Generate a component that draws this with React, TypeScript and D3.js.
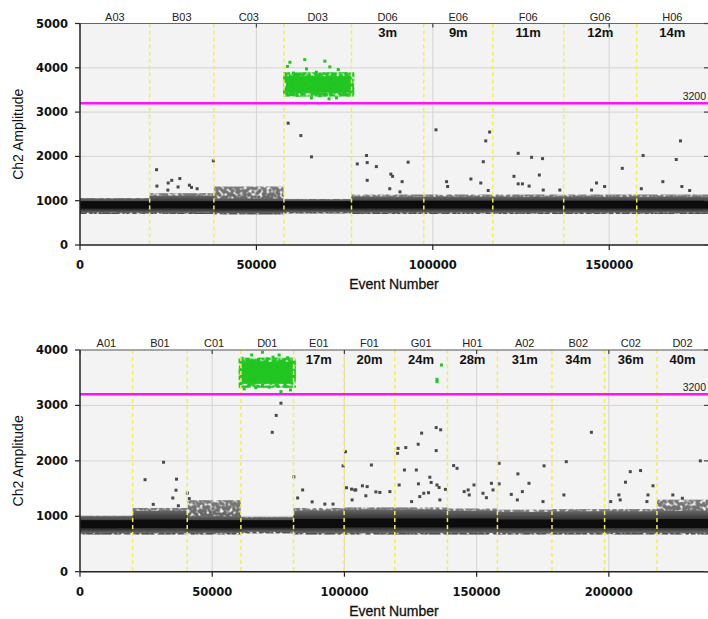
import React from 'react';
import * as d3 from 'd3';

// ---- top plot data (ch2 amplitude vs event number) ----
const topWells = ['A03', 'B03', 'C03', 'D03', 'D06', 'E06', 'F06', 'G06', 'H06'];
const topTimes = ['', '', '', '', '3m', '9m', '11m', '12m', '14m'];
const topWellEnd = [19750, 37950, 57800, 76950, 97450, 117000, 137100, 157800, 178000];
// droplet band per well: bottom of fuzz, dense core, top of dark band, top of light cap
const topLo = [730, 730, 720, 740, 730, 730, 730, 730, 730];
const topCoreLo = [830, 830, 830, 840, 830, 830, 830, 830, 830];
const topCoreHi = [990, 990, 990, 990, 1000, 1000, 1000, 1000, 1000];
const topHi = [1050, 1110, 1050, 1030, 1090, 1090, 1090, 1090, 1090];
const topCap = [1060, 1170, 1320, 1040, 1140, 1140, 1140, 1140, 1140];
const topOutliers: [number, number][] = [
  [21700, 1700], [21800, 1330], [25000, 1400], [26000, 1460], [28300, 1500], [27800, 1310],
  [24900, 1240], [31000, 1350], [31600, 1300], [33200, 1270], [37800, 1900], [59000, 2750],
  [62600, 2470], [65600, 1990], [78600, 1830], [81200, 2020], [81400, 1860], [81400, 1460],
  [84000, 1770], [88100, 1600], [88600, 1550], [91300, 1430], [93000, 1870], [87800, 1270],
  [90700, 1200], [100900, 2600], [103900, 1430], [104200, 1320], [110800, 1490], [113600, 1400],
  [114300, 1880], [115000, 2350], [116100, 2550], [115700, 1230], [124200, 2070], [123000, 1550],
  [124200, 1380], [125400, 1380], [128000, 1980], [127300, 1330], [131100, 1950], [130200, 1580],
  [131300, 1240], [136000, 1240], [146400, 1400], [145000, 1240], [148700, 1320], [153700, 1730],
  [159600, 2020], [159100, 1270], [165200, 1430], [169000, 1930], [170200, 2350], [170600, 1320],
  [172800, 1230],
];
const topGreenBox = [58400, 76900, 3440, 3810];
const topGreen: [number, number][] = [
  [59500, 4125], [63700, 4185], [69400, 4150], [58800, 4030], [70800, 4020], [73200, 3960],
  [64200, 3975], [65600, 3320], [70600, 3300], [72700, 3320], [60500, 3880], [67000, 3900],
  [75500, 3860], [61500, 3380], [68000, 3370], [76000, 3390], [58200, 3700], [77200, 3600],
  [62000, 3850], [65000, 3840], [71800, 3850], [74000, 3830], [59800, 3400], [63500, 3410],
  [66800, 3400], [69800, 3390], [73800, 3410], [58100, 3520], [77100, 3480], [58300, 3850],
];

// ---- bottom plot data ----
const botWells = ['A01', 'B01', 'C01', 'D01', 'E01', 'F01', 'G01', 'H01', 'A02', 'B02', 'C02', 'D02'];
const botTimes = ['', '', '', '', '17m', '20m', '24m', '28m', '31m', '34m', '36m', '40m'];
const botWellEnd = [19920, 40550, 60850, 80760, 99890, 119050, 138960, 157860, 178500, 198400, 218200, 237500];
const botLo = [700, 700, 700, 720, 700, 700, 700, 700, 700, 700, 700, 700];
const botCoreLo = [790, 790, 790, 800, 790, 800, 800, 800, 790, 790, 790, 790];
const botCoreHi = [930, 940, 930, 930, 950, 960, 960, 960, 940, 940, 940, 950];
const botHi = [1000, 1100, 1000, 980, 1100, 1120, 1120, 1100, 1080, 1090, 1090, 1100];
const botCap = [1010, 1150, 1290, 990, 1150, 1160, 1160, 1140, 1120, 1130, 1130, 1300];
const botOutliers: [number, number][] = [
  [24600, 1660], [31600, 1975], [36500, 1670], [36300, 1470], [35100, 1330], [37200, 1190],
  [40600, 1420], [41300, 1320], [27700, 1215], [72700, 2515], [74200, 2820], [76000, 3040],
  [80900, 1710], [82300, 1330], [84200, 1475], [87800, 1260], [92600, 1220], [95700, 1220],
  [99500, 1910], [100400, 2165], [100800, 1515], [102700, 1490], [102900, 1295], [104300, 1475],
  [110200, 1925], [106800, 1550], [103900, 1475], [108600, 1535], [108100, 1370], [111900, 1440],
  [113400, 1430], [117200, 1445], [120300, 2225], [120100, 2135], [123200, 2240], [127900, 2300],
  [129200, 2500], [134700, 2600], [136400, 2560], [134700, 2185], [122700, 1835], [127200, 1835],
  [120700, 1565], [128000, 1585], [132300, 1705], [132800, 1610], [135000, 1565], [135800, 1520],
  [130000, 1415], [131800, 1425], [128500, 1355], [125400, 1265], [136100, 1295], [138200, 1485],
  [141300, 1915], [142600, 1865], [146800, 1475], [145300, 1445], [147200, 1385], [149000, 1565],
  [152400, 1415], [153700, 1335], [155600, 1595], [156200, 1475], [158500, 1955], [158500, 1585],
  [163100, 1395], [165400, 1295], [165600, 1765], [167300, 1445], [169800, 1595], [175500, 1910],
  [175100, 1265], [183000, 1385], [183900, 1985], [193400, 2515], [203800, 1385], [204300, 1295],
  [200700, 1265], [206300, 1615], [208100, 1805], [212000, 1825], [216700, 1550], [214800, 1385],
  [214400, 1265], [224200, 1385], [227800, 1325], [234600, 2000],
];
const botGreenBox = [61100, 80500, 3390, 3790];
const botGreen: [number, number][] = [
  [69000, 3960], [64900, 3910], [75300, 3910], [62100, 3300], [76000, 3250], [79600, 3280],
  [66500, 3320], [71500, 3330], [61200, 3850], [73000, 3870], [78500, 3860], [80800, 3600],
  [63200, 3820], [67500, 3830], [70800, 3840], [77000, 3820], [64000, 3350], [69000, 3360],
  [74500, 3350], [78000, 3340], [60900, 3500], [80700, 3450],
  [136700, 3730], [135000, 3470], [135000, 3430],
];

type PanelProps = {
  top: number; bottom: number; xMax: number; yMax: number;
  xTicks: number[]; wells: string[]; times: string[]; wellEnd: number[];
  lo: number[]; coreLo: number[]; coreHi: number[]; hi: number[]; cap: number[];
  outliers: [number, number][]; greenBox: number[]; green: [number, number][];
  id: string;
};

const LEFT = 80;
const RIGHT = 708;
const AX_FONT = '"DejaVu Sans", Verdana, sans-serif';
const LAB_FONT = '"Liberation Sans", Arial, sans-serif';

function Panel(p: PanelProps) {
  const x = d3.scaleLinear().domain([0, p.xMax]).range([LEFT, RIGHT]);
  const y = d3.scaleLinear().domain([0, p.yMax]).range([p.bottom, p.top]);
  const yTicks = d3.range(0, p.yMax + 1, 1000);
  const starts = [0, ...p.wellEnd.slice(0, -1)];
  const g = p.greenBox;
  return (
    <g>
      <defs>
        <linearGradient id={p.id + 'band'} x1="0" y1="0" x2="0" y2="1">
          <stop offset="0%" stopColor="#666" />
          <stop offset="35%" stopColor="#383838" />
          <stop offset="70%" stopColor="#1e1e1e" />
          <stop offset="100%" stopColor="#6a6a6a" />
        </linearGradient>
        <linearGradient id={p.id + 'cap'} x1="0" y1="0" x2="0" y2="1">
          <stop offset="0%" stopColor="#7c7c7c" />
          <stop offset="100%" stopColor="#4c4c4c" />
        </linearGradient>
        {/* grainy edge so the droplet clouds do not look like solid blocks */}
        <filter id={p.id + 'grain'} x="-2%" y="-20%" width="104%" height="140%">
          <feTurbulence type="fractalNoise" baseFrequency="0.3" numOctaves="1" seed="7" result="n" />
          <feColorMatrix in="n" type="matrix"
            values="0 0 0 0 0  0 0 0 0 0  0 0 0 0 0  4 0 0 0 -1.1" result="a" />
          <feComposite in="SourceGraphic" in2="a" operator="in" />
        </filter>
      </defs>
      <rect x={LEFT} y={p.top} width={RIGHT - LEFT} height={p.bottom - p.top} fill="#f3f3f3" />
      {yTicks.slice(1).map(t => (
        <line key={'gy' + t} x1={LEFT} x2={RIGHT} y1={y(t)} y2={y(t)} stroke="#d4d4d4" strokeWidth={1} />
      ))}
      {p.xTicks.slice(1).map(t => (
        <line key={'gx' + t} x1={x(t)} x2={x(t)} y1={p.top} y2={p.bottom} stroke="#d4d4d4" strokeWidth={1} />
      ))}
      {/* droplet bands */}
      <g filter={`url(#${p.id}grain)`}>
        {p.wells.map((w, i) => (
          <rect key={'cap' + w} x={x(starts[i])} width={x(p.wellEnd[i]) - x(starts[i])}
            y={y(p.cap[i])} height={y(p.lo[i] - 30) - y(p.cap[i])} fill={`url(#${p.id}cap)`} />
        ))}
      </g>
      {p.wells.map((w, i) => (
        <g key={'band' + w}>
          <rect x={x(starts[i])} width={x(p.wellEnd[i]) - x(starts[i])}
            y={y(p.hi[i])} height={y(p.lo[i]) - y(p.hi[i])} fill={`url(#${p.id}band)`} />
          <rect x={x(starts[i])} width={x(p.wellEnd[i]) - x(starts[i])}
            y={y(p.coreHi[i])} height={y(p.coreLo[i]) - y(p.coreHi[i])} fill="#0c0c0c" />
        </g>
      ))}
      {p.outliers.map((d, i) => (
        <rect key={'o' + i} x={x(d[0]) - 1.5} y={y(d[1]) - 1.5} width={3} height={3} fill="#4a4a4a" />
      ))}
      <rect x={x(g[0])} width={x(g[1]) - x(g[0])} y={y(g[3])} height={y(g[2]) - y(g[3])}
        fill="#1fc41f" />
      <g filter={`url(#${p.id}grain)`}>
        <rect x={x(g[0]) - 3} width={x(g[1]) - x(g[0]) + 6} y={y(g[3]) - 4}
          height={y(g[2]) - y(g[3]) + 8} fill="#22c622" />
      </g>
      {p.green.map((d, i) => (
        <rect key={'gr' + i} x={x(d[0]) - 1.5} y={y(d[1]) - 1.5} width={3} height={3} fill="#22c622" />
      ))}
      {/* well separators */}
      {p.wellEnd.slice(0, -1).map((e, i) => (
        <line key={'sep' + i} x1={x(e)} x2={x(e)} y1={p.top} y2={p.bottom}
          stroke="#f2f050" strokeWidth={1.5} strokeDasharray="4,3" />
      ))}
      {/* threshold */}
      <line x1={LEFT} x2={RIGHT} y1={y(3200)} y2={y(3200)} stroke="#ff10ff" strokeWidth={2.5} />
      <text x={RIGHT - 2} y={y(3200) - 3} textAnchor="end" fontFamily={LAB_FONT} fontSize={10.5} fill="#222">3200</text>
      {/* well labels */}
      {p.wells.map((w, i) => {
        const cx = x((starts[i] + p.wellEnd[i]) / 2);
        return (
          <g key={'lab' + w}>
            <text x={cx} y={p.top - 3} textAnchor="middle" fontFamily={LAB_FONT} fontSize={11} fill="#222">{w}</text>
            {p.times[i] && (
              <text x={cx} y={p.top + 13.5} textAnchor="middle" fontFamily={LAB_FONT} fontSize={13}
                fontWeight="bold" fill="#111">{p.times[i]}</text>
            )}
          </g>
        );
      })}
      {/* axes */}
      <line x1={LEFT} x2={RIGHT} y1={p.top} y2={p.top} stroke="#666" strokeWidth={1} />
      <line x1={LEFT} x2={LEFT} y1={p.top} y2={p.bottom} stroke="#222" strokeWidth={1.5} />
      <line x1={LEFT} x2={RIGHT} y1={p.bottom} y2={p.bottom} stroke="#222" strokeWidth={1.5} />
      {yTicks.map(t => (
        <g key={'yt' + t}>
          <line x1={LEFT - 5} x2={LEFT} y1={y(t)} y2={y(t)} stroke="#222" strokeWidth={1.2} />
          <line x1={RIGHT - 4} x2={RIGHT} y1={y(t)} y2={y(t)} stroke="#444" strokeWidth={1.2} />
          <text x={LEFT - 12} y={y(t) + 4} textAnchor="end" fontFamily={AX_FONT} fontSize={11.5}
            fontWeight="bold" fill="#111">{t}</text>
        </g>
      ))}
      {p.xTicks.map(t => (
        <g key={'xt' + t}>
          <line x1={x(t)} x2={x(t)} y1={p.bottom} y2={p.bottom + 5} stroke="#222" strokeWidth={1.2} />
          <line x1={x(t)} x2={x(t)} y1={p.top} y2={p.top + 4} stroke="#444" strokeWidth={1.2} />
          <text x={x(t)} y={p.bottom + 24} textAnchor="middle" fontFamily={AX_FONT} fontSize={11.5}
            fontWeight="bold" fill="#111">{t}</text>
        </g>
      ))}
      <text x={(LEFT + RIGHT) / 2} y={p.bottom + 44} textAnchor="middle" fontFamily={LAB_FONT}
        fontSize={14} fill="#111" stroke="#111" strokeWidth={0.3}>Event Number</text>
      <text transform={`translate(23,${(p.top + p.bottom) / 2}) rotate(-90)`} textAnchor="middle"
        fontFamily={LAB_FONT} fontSize={14} fill="#111">Ch2 Amplitude</text>
    </g>
  );
}

export default function App() {
  return (
    <svg width={708} height={619} style={{ position: 'absolute', left: 0, top: 0, background: '#fff' }}>
      <Panel id="t" top={23.5} bottom={245} xMax={178000} yMax={5000} xTicks={[0, 50000, 100000, 150000]}
        wells={topWells} times={topTimes} wellEnd={topWellEnd} lo={topLo} coreLo={topCoreLo}
        coreHi={topCoreHi} hi={topHi} cap={topCap} outliers={topOutliers} greenBox={topGreenBox}
        green={topGreen} />
      <Panel id="b" top={350} bottom={571.7} xMax={237500} yMax={4000}
        xTicks={[0, 50000, 100000, 150000, 200000]}
        wells={botWells} times={botTimes} wellEnd={botWellEnd} lo={botLo} coreLo={botCoreLo}
        coreHi={botCoreHi} hi={botHi} cap={botCap} outliers={botOutliers} greenBox={botGreenBox}
        green={botGreen} />
    </svg>
  );
}
